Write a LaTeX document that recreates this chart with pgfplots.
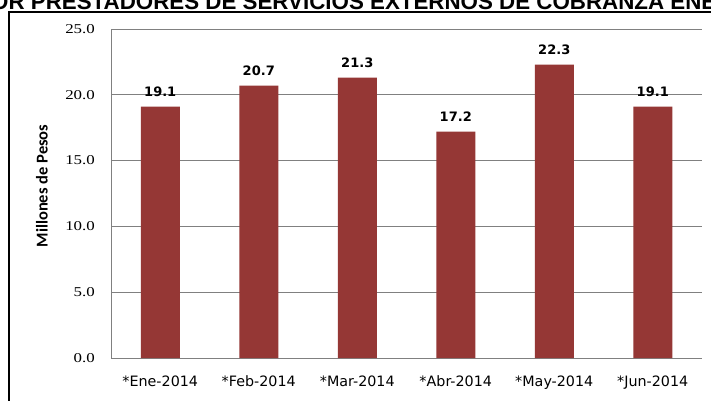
\documentclass[border=0pt]{standalone}
\usepackage{pgfplots}
\pgfplotsset{compat=1.18}
\usepackage{fontspec}
\setmainfont{DejaVu Sans}
\newfontfamily\serifnum{Liberation Serif}
\newfontfamily\titlef{Liberation Sans}
\newfontfamily\carl{Carlito}
\definecolor{barred}{RGB}{149,55,53}
\definecolor{gridg}{RGB}{128,128,128}
\begin{document}
\begin{tikzpicture}[x=1pt,y=1pt]
\useasboundingbox (0,0) rectangle (711,400);
\fill[white] (0,0) rectangle (711,400);
\node[anchor=base west, inner sep=0] at (-9,391) {\resizebox{725pt}{!}{\titlef\bfseries OR PRESTADORES DE SERVICIOS EXTERNOS DE COBRANZA ENE}};
\draw[line width=2.5pt, line join=miter] (9,-5) -- (9,388) -- (720,388);
\node[rotate=90, inner sep=0pt, font=\carl\bfseries\fontsize{16.5}{18}\selectfont] at (42,214) {Millones de Pesos};
\begin{axis}[
  at={(111pt,42pt)}, anchor=south west,
  scale only axis, width=591pt, height=329pt,
  ybar, bar width=39pt,
  xmin=-0.5, xmax=5.5, ymin=0, ymax=25,
  enlargelimits=false, clip=false,
  ytick={0,5,10,15,20,25},
  xtick={0,1,2,3,4,5},
  xticklabels={*Ene-2014,*Feb-2014,*Mar-2014,*Abr-2014,*May-2014,*Jun-2014},
  ymajorgrids, grid style={gridg, line width=0.8pt},
  axis x line*=bottom, axis y line*=left,
  axis line style={gridg, line width=0.8pt, -},
  major tick length=0pt,
  /pgf/number format/fixed,
  /pgf/number format/fixed zerofill,
  /pgf/number format/precision=1,
  /pgf/number format/assume math mode=true,
  yticklabel={\scalebox{1.25}[1]{\pgfmathprintnumber{\tick}}},
  xticklabel style={font=\fontsize{14.3}{16}\selectfont, anchor=base, yshift=-28pt, inner sep=0pt},
  yticklabel style={font=\serifnum\fontsize{13.5}{15}\selectfont, anchor=east, xshift=-16pt, inner sep=0pt},
  nodes near coords,
  nodes near coords style={font=\bfseries\fontsize{13}{15}\selectfont, anchor=base, yshift=10.5pt, inner sep=0pt, text=black},
]
\addplot[fill=barred, draw=none] coordinates {(0,19.1) (1,20.7) (2,21.3) (3,17.2) (4,22.3) (5,19.1)};
\end{axis}
\end{tikzpicture}
\end{document}
